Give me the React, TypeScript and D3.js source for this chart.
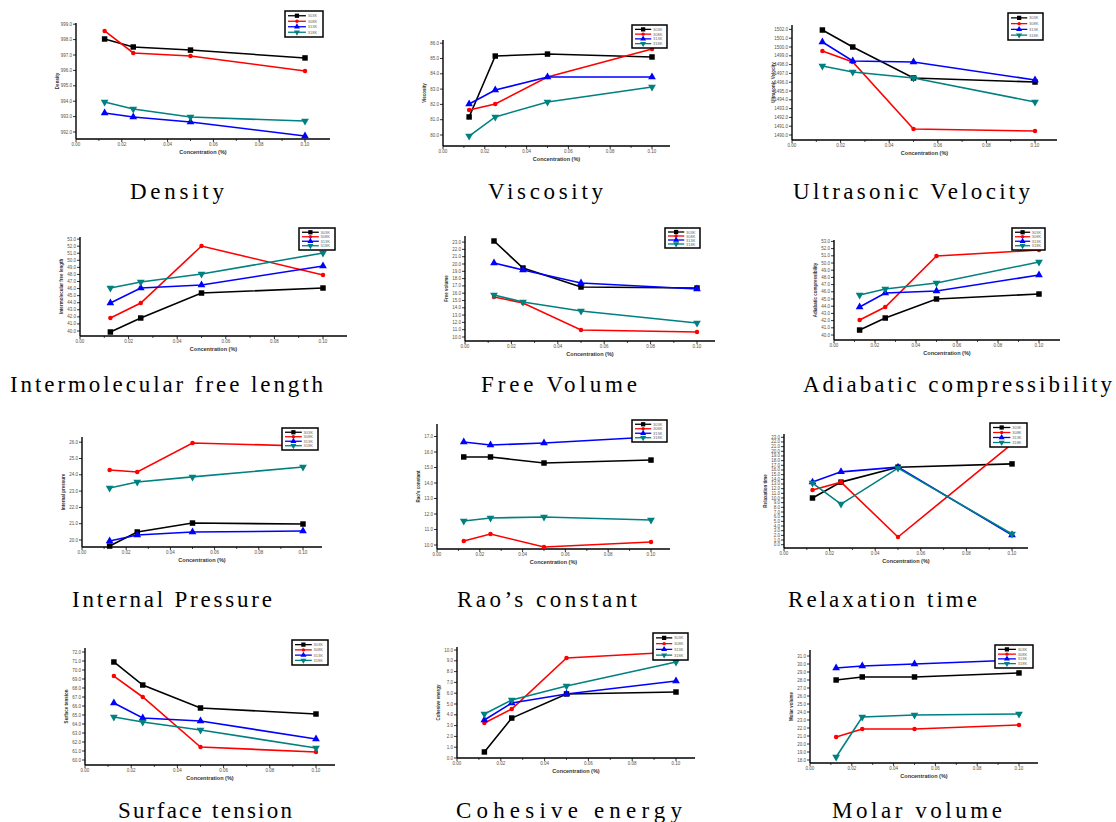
import React from 'react';
import * as d3 from 'd3';

// ---------- shared data ----------
const concentrations = [0.0125, 0.025, 0.05, 0.1];
const seriesNames = ['303K', '308K', '313K', '318K'];
const seriesColors = ['#000000', '#ff0000', '#0000ff', '#008080'];
const xTickValues = [0, 0.02, 0.04, 0.06, 0.08, 0.1];
const xMinorValues = [0.01, 0.03, 0.05, 0.07, 0.09];
const xAxisLabel = 'Concentration (%)';

// ---------- series values (per panel: black, red, blue, teal) ----------
const densityValues = [
  [998.04, 997.52, 997.32, 996.81],
  [998.56, 997.13, 996.94, 995.96],
  [993.23, 992.97, 992.65, 991.74],
  [993.95, 993.49, 992.97, 992.71],
];
const viscosityValues = [
  [81.18, 85.16, 85.29, 85.1],
  [81.63, 82.03, 83.79, 85.62],
  [82.03, 82.94, 83.79, 83.79],
  [79.93, 81.18, 82.16, 83.14],
];
const velocityValues = [
  [1501.93, 1500.0, 1496.48, 1496.02],
  [1499.55, 1498.3, 1490.68, 1490.45],
  [1500.57, 1498.41, 1498.3, 1496.25],
  [1497.84, 1497.16, 1496.48, 1493.75],
];
const freeLengthValues = [
  [39.86, 41.84, 45.37, 46.08],
  [41.84, 43.96, 52.02, 47.92],
  [43.96, 46.08, 46.51, 49.19],
  [46.08, 46.93, 48.06, 51.03],
];
const freeVolumeValues = [
  [23.15, 19.45, 16.85, 16.71],
  [15.48, 14.66, 10.96, 10.68],
  [20.14, 19.18, 17.4, 16.58],
  [15.75, 14.79, 13.56, 11.92],
];
const adiabaticValues = [
  [40.69, 42.36, 45.0, 45.69],
  [42.08, 43.89, 50.97, 51.81],
  [43.89, 45.83, 46.11, 48.33],
  [45.56, 46.39, 47.22, 50.14],
];
const internalPressureValues = [
  [19.63, 20.49, 21.04, 20.98],
  [24.29, 24.17, 25.95, 25.77],
  [19.94, 20.31, 20.49, 20.55],
  [23.19, 23.56, 23.87, 24.48],
];
const raoValues = [
  [15.68, 15.68, 15.29, 15.48],
  [10.26, 10.71, 9.87, 10.19],
  [16.65, 16.45, 16.58, 16.97],
  [11.55, 11.74, 11.81, 11.61],
];
const relaxationValues = [
  [10.0, 13.4, 16.6, 17.3],
  [11.7, 13.4, 1.65, 21.6],
  [13.4, 15.6, 16.6, 2.08],
  [13.2, 8.7, 16.4, 2.3],
];
const surfaceTensionValues = [
  [70.89, 68.33, 65.78, 65.11],
  [69.33, 67.0, 61.44, 60.89],
  [66.33, 64.67, 64.33, 62.33],
  [64.78, 64.22, 63.33, 61.33],
];
const cohesiveValues = [
  [0.56, 3.7, 5.93, 6.11],
  [3.24, 4.54, 9.26, 9.81],
  [3.52, 5.09, 5.93, 7.13],
  [4.07, 5.37, 6.67, 8.89],
];
const molarVolumeValues = [
  [28.0, 28.38, 28.38, 28.88],
  [20.88, 21.88, 21.88, 22.38],
  [29.5, 29.75, 30.0, 30.5],
  [18.38, 23.38, 23.63, 23.75],
];

// ---------- panel texts & tick starts ----------
const panelTitles = [
  'Density', 'Viscosity', 'Ultrasonic Velocity',
  'Intermolecular free length', 'Free Volume', 'Adiabatic compressibility',
  'Internal Pressure', 'Rao\u2019s constant', 'Relaxation time',
  'Surface tension', 'Cohesive energy', 'Molar volume',
];
const yAxisLabels = [
  'Density', 'Viscosity', 'Ultrasonic Velocity',
  'Intermolecular free length', 'Free volume', 'Adiabatic compressibility',
  'Internal pressure', 'Rao\u2019s constant', 'Relaxation time',
  'Surface tension', 'Cohesive energy', 'Molar volume',
];
const yTickStarts = [992, 80, 1490, 40, 10, 40, 20, 10, 0, 60, 0, 18];
const yTickCounts = [8, 7, 13, 14, 14, 14, 7, 8, 24, 13, 11, 14];
const panelValues = [
  densityValues, viscosityValues, velocityValues,
  freeLengthValues, freeVolumeValues, adiabaticValues,
  internalPressureValues, raoValues, relaxationValues,
  surfaceTensionValues, cohesiveValues, molarVolumeValues,
];

// ---------- layout (pixels) ----------
const layouts = [
  { x0: 76, x1: 305, xEnd: 330, bottom: 139, top: 23, tick0: 132, sp: 15.4, lg: [285, 11, 38, 26], tt: [130, 199, 94] },
  { x0: 443, x1: 652, xEnd: 670, bottom: 146, top: 40, tick0: 135, sp: 15.3, lg: [632, 25, 35, 23], tt: [488, 199, 115] },
  { x0: 792, x1: 1035, xEnd: 1057, bottom: 140, top: 25, tick0: 135, sp: 8.8, lg: [1008, 13, 35, 27], tt: [793, 199, 237] },
  { x0: 80, x1: 323, xEnd: 347, bottom: 336, top: 237, tick0: 331, sp: 7.07, lg: [299, 228, 36, 22], tt: [10, 392, 313] },
  { x0: 465, x1: 697, xEnd: 715, bottom: 341, top: 236, tick0: 337, sp: 7.3, lg: [665, 228, 35, 20], tt: [481, 392, 156] },
  { x0: 834, x1: 1039, xEnd: 1060, bottom: 340, top: 240, tick0: 335, sp: 7.2, lg: [1012, 228, 33, 22], tt: [803, 392, 309] },
  { x0: 82, x1: 303, xEnd: 322, bottom: 547, top: 437, tick0: 540, sp: 16.3, lg: [282, 428, 36, 22], tt: [72, 607, 200] },
  { x0: 437, x1: 651, xEnd: 670, bottom: 549, top: 424, tick0: 545, sp: 15.5, lg: [632, 420, 35, 22], tt: [457, 607, 180] },
  { x0: 784, x1: 1012, xEnd: 1028, bottom: 548, top: 434, tick0: 544.7, sp: 4.67, lg: [990, 423, 37, 24], tt: [788, 607, 189] },
  { x0: 85, x1: 316, xEnd: 335, bottom: 765, top: 648, tick0: 760, sp: 9, lg: [292, 640, 36, 25], tt: [118, 818, 174] },
  { x0: 457, x1: 676, xEnd: 695, bottom: 758, top: 647, tick0: 758, sp: 10.8, lg: [653, 633, 35, 27], tt: [456, 818, 226] },
  { x0: 810, x1: 1019, xEnd: 1038, bottom: 763, top: 650, tick0: 760, sp: 8, lg: [995, 645, 38, 23], tt: [832, 818, 170] },
];

const symbolTypes = [d3.symbolSquare, d3.symbolCircle, d3.symbolTriangle, d3.symbolTriangle];
const symbolRotate = [0, 0, 0, 180];
const symbolSizes = [30, 16, 26, 26];

function Marker({ i, x, y, scale = 1 }: { i: number; x: number; y: number; scale?: number }) {
  const path = d3.symbol().type(symbolTypes[i]).size(symbolSizes[i] * scale)() || '';
  return (
    <path
      d={path}
      transform={`translate(${x},${y}) rotate(${symbolRotate[i]})`}
      fill={seriesColors[i]}
    />
  );
}

function Panel({ idx }: { idx: number }) {
  const L = layouts[idx];
  const t0 = yTickStarts[idx];
  const n = yTickCounts[idx];
  const values = panelValues[idx];
  const x = d3.scaleLinear().domain([0, 0.1]).range([L.x0, L.x1]);
  const y = d3
    .scaleLinear()
    .domain([t0 + (L.tick0 - L.bottom) / L.sp, t0 + (L.tick0 - L.top) / L.sp])
    .range([L.bottom, L.top]);
  const yTicks = d3.range(n).map((k) => t0 + k);
  const line = d3
    .line<number>()
    .x((_, k) => x(concentrations[k]))
    .y((v) => y(v));
  const [lx, ly, lw, lh] = L.lg;
  const rowH = (lh - 4) / 4;
  const [tx, tyy, tw] = L.tt;
  const tickFont = 4.5;
  const tickColor = '#5a5040';
  return (
    <g>
      <line x1={L.x0} x2={L.xEnd} y1={L.bottom} y2={L.bottom} stroke="#000" strokeWidth={1.4} />
      <line x1={L.x0} x2={L.x0} y1={L.bottom} y2={L.top} stroke="#000" strokeWidth={1.4} />
      {xTickValues.map((v) => (
        <g key={'xt' + v}>
          <line x1={x(v)} x2={x(v)} y1={L.bottom} y2={L.bottom + 3} stroke="#000" strokeWidth={0.8} />
          <text x={x(v)} y={L.bottom + 7} fontSize={tickFont} textAnchor="middle" fill={tickColor} fontFamily="Arial, sans-serif">
            {v.toFixed(2)}
          </text>
        </g>
      ))}
      {xMinorValues.map((v) => (
        <line key={'xm' + v} x1={x(v)} x2={x(v)} y1={L.bottom} y2={L.bottom + 2} stroke="#000" strokeWidth={0.7} />
      ))}
      {yTicks.map((v) => (
        <g key={'yt' + v}>
          <line x1={L.x0 - 3} x2={L.x0} y1={y(v)} y2={y(v)} stroke="#000" strokeWidth={0.8} />
          <text x={L.x0 - 4} y={y(v) + 1.5} fontSize={tickFont} textAnchor="end" fill={tickColor} fontFamily="Arial, sans-serif">
            {v.toFixed(1)}
          </text>
        </g>
      ))}
      <text
        x={(L.x0 + L.xEnd) / 2}
        y={L.bottom + 15}
        fontSize={5.5}
        textAnchor="middle"
        fill="#333"
        fontFamily="Arial, sans-serif"
        fontWeight="bold"
      >
        {xAxisLabel}
      </text>
      <text
        transform={`translate(${L.x0 - 17},${(L.top + L.bottom) / 2}) rotate(-90)`}
        fontSize={4.5}
        textAnchor="middle"
        fill="#333"
        fontFamily="Arial, sans-serif"
        fontWeight="bold"
      >
        {yAxisLabels[idx]}
      </text>
      {values.map((vals, i) => (
        <g key={'s' + i}>
          <path d={line(vals) || ''} fill="none" stroke={seriesColors[i]} strokeWidth={1.6} />
          {vals.map((v, k) => (
            <Marker key={k} i={i} x={x(concentrations[k])} y={y(v)} />
          ))}
        </g>
      ))}
      <rect x={lx} y={ly} width={lw} height={lh} fill="#fff" stroke="#000" strokeWidth={1.5} />
      {seriesNames.map((name, i) => {
        const ry = ly + 2 + rowH * (i + 0.5);
        return (
          <g key={'lg' + i}>
            <line x1={lx + 3} x2={lx + lw * 0.55} y1={ry} y2={ry} stroke={seriesColors[i]} strokeWidth={1.3} />
            <Marker i={i} x={lx + 3 + (lw * 0.55 - 3) / 2} y={ry} scale={0.6} />
            <text x={lx + lw * 0.6} y={ry + 1.5} fontSize={4} fill="#666" fontFamily="Arial, sans-serif">
              {name}
            </text>
          </g>
        );
      })}
      <text
        x={tx}
        y={tyy}
        fontSize={23}
        fontFamily="'Liberation Serif', 'Times New Roman', serif"
        fill="#000"
        textLength={tw}
        lengthAdjust="spacing"
      >
        {panelTitles[idx]}
      </text>
    </g>
  );
}

export default function App() {
  return (
    <svg
      width={1116}
      height={822}
      viewBox="0 0 1116 822"
      style={{ position: 'absolute', left: 0, top: 0, background: '#fff' }}
    >
      <rect x={0} y={0} width={1116} height={822} fill="#fff" />
      {layouts.map((_, idx) => (
        <Panel key={idx} idx={idx} />
      ))}
    </svg>
  );
}
